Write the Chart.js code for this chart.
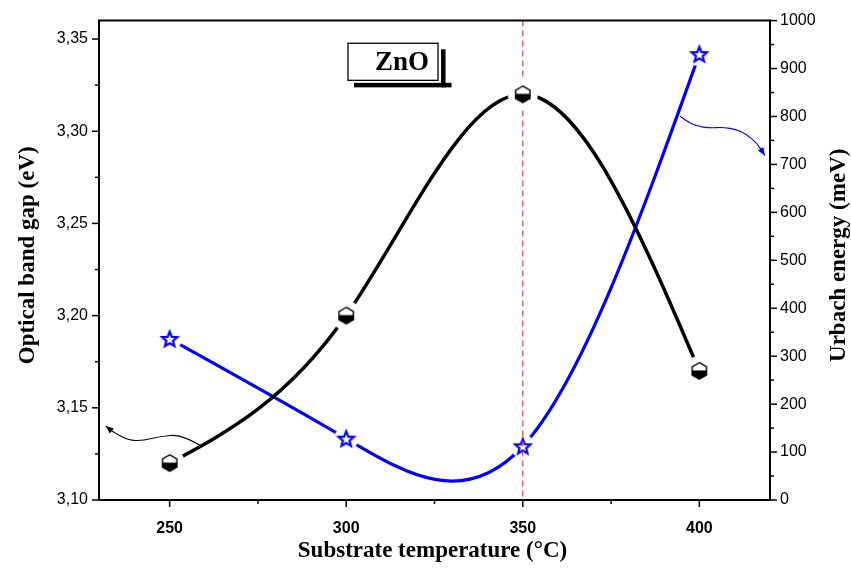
<!DOCTYPE html>
<html><head><meta charset="utf-8">
<script src="https://cdn.jsdelivr.net/npm/chart.js@4.4.1/dist/chart.umd.min.js"></script>
<style>html,body{margin:0;padding:0;background:#fff}#wrap{width:851px;height:570px}</style>
</head><body><div id="wrap"><canvas id="c" width="851" height="570"></canvas></div>
<script>
// ---- data ----
const temperatures = [250, 300, 350, 400];
const bandGap = [3.12, 3.20, 3.32, 3.17];          // eV
const urbachEnergy = [336, 128, 112, 930];         // meV
const xTickValues = [250, 300, 350, 400];
const leftTickValues = [3.10, 3.15, 3.20, 3.25, 3.30, 3.35];
const rightTickValues = [0, 100, 200, 300, 400, 500, 600, 700, 800, 900, 1000];
const markerTemperature = 350;
const sampleLabel = 'ZnO';
const xTitle = 'Substrate temperature (°C)';
const leftTitle = 'Optical band gap (eV)';
const rightTitle = 'Urbach energy (meV)';
// annotation arrows in data units (temperature, value)
const bandGapArrow = [[258.60,3.1297],[253.50,3.1354],[247.27,3.1346],[242.46,3.1321],[238.21,3.1324],[233.68,3.1373],[231.90,3.1402]];
const urbachArrow = [[394.52,800.4],[396.41,790],[399.25,779.6],[403.01,776.1],[406.78,777.5],[410.57,772.8],[413.40,762.4],[416.23,744.9],[418.58,718.7]];
const labelBox = {x0:300.5, x1:326.0, y0:3.3477, y1:3.3276};

const SERIF = '"Liberation Serif","Times New Roman",serif';
const SANS = '"Liberation Sans",Arial,sans-serif';

function makeHex(){
  const s=34,c=document.createElement('canvas');c.width=c.height=s;
  const g=c.getContext('2d');const cx=s/2,cy=s/2,r=8.3;
  g.fillStyle='#fff';g.beginPath();g.arc(cx,cy,15,0,Math.PI*2);g.fill();
  const path=()=>{g.beginPath();for(let i=0;i<6;i++){const a=-Math.PI/2+i*Math.PI/3;const x=cx+r*Math.cos(a),y=cy+r*Math.sin(a);i?g.lineTo(x,y):g.moveTo(x,y);}g.closePath();};
  path();g.fillStyle='#fff';g.fill();
  g.save();g.beginPath();g.rect(0,cy-0.5,s,s);g.clip();path();g.fillStyle='#000';g.fill();g.restore();
  path();g.lineWidth=1.4;g.strokeStyle='#000';g.stroke();
  return c;
}
function makeStar(){
  const s=34,c=document.createElement('canvas');c.width=c.height=s;
  const g=c.getContext('2d');const cx=s/2,cy=s/2+0.7,R=8,r=3.5;
  g.fillStyle='#fff';g.beginPath();g.arc(s/2,s/2,12,0,Math.PI*2);g.fill();
  g.beginPath();for(let i=0;i<10;i++){const a=-Math.PI/2+i*Math.PI/5;const rr=i%2?r:R;const x=cx+rr*Math.cos(a),y=cy+rr*Math.sin(a);i?g.lineTo(x,y):g.moveTo(x,y);}g.closePath();
  g.fillStyle='#fff';g.fill();g.lineWidth=2.2;g.strokeStyle='#0000ff';g.lineJoin='miter';g.stroke();
  return c;
}

// natural cubic spline through the dataset's own points (pixel space of the chart's scales)
const naturalSpline = {
  id:'naturalSpline',
  afterDatasetUpdate(chart,args){
    const meta=args.meta;const pts=meta.data;const n=pts.length;if(n<3||!meta.dataset)return;
    const xs=pts.map(p=>p.x),ys=pts.map(p=>p.y);
    const h=[];for(let i=0;i<n-1;i++)h.push(xs[i+1]-xs[i]);
    const a=[],b=[],c=[],d=[];
    for(let i=1;i<n-1;i++){a.push(h[i-1]);b.push(2*(h[i-1]+h[i]));c.push(h[i]);d.push(6*((ys[i+1]-ys[i])/h[i]-(ys[i]-ys[i-1])/h[i-1]));}
    const m=b.length;
    for(let i=1;i<m;i++){const w=a[i]/b[i-1];b[i]-=w*c[i-1];d[i]-=w*d[i-1];}
    const sol=new Array(m);sol[m-1]=d[m-1]/b[m-1];
    for(let i=m-2;i>=0;i--)sol[i]=(d[i]-c[i]*sol[i+1])/b[i];
    const M=new Array(n).fill(0);for(let i=1;i<n-1;i++)M[i]=sol[i-1];
    for(let i=0;i<n;i++){
      let s;
      if(i<n-1)s=(ys[i+1]-ys[i])/h[i]-h[i]*(2*M[i]+M[i+1])/6;
      else s=(ys[i]-ys[i-1])/h[i-1]+h[i-1]*(M[i-1]+2*M[i])/6;
      const hp=i>0?h[i-1]:0,hn=i<n-1?h[i]:0;const p=pts[i];
      p.cp1x=xs[i]-hp/3;p.cp1y=ys[i]-s*hp/3;
      p.cp2x=xs[i]+hn/3;p.cp2y=ys[i]+s*hn/3;
    }
    meta.dataset._pointsUpdated=true;
  }
};

const decor = {
  id:'decor',
  afterDatasetDraw(chart,args){
    if(args.index!==1)return; // draw the dashed marker line above the Urbach curve, below the band-gap curve
    const {ctx,chartArea:a,scales:{x}}=chart;
    const px=x.getPixelForValue(markerTemperature);
    ctx.save();ctx.strokeStyle='rgba(255,30,30,0.9)';ctx.lineWidth=1.2;ctx.setLineDash([6,4]);
    ctx.beginPath();ctx.moveTo(px,a.top);ctx.lineTo(px,a.bottom);ctx.stroke();ctx.restore();
  },
  afterDraw(chart){
    const {ctx,chartArea:a,scales:{x,y,y1}}=chart;
    ctx.save();
    ctx.strokeStyle='#000';ctx.lineWidth=2;
    ctx.beginPath();ctx.moveTo(a.left-1,a.top);ctx.lineTo(a.right+1,a.top);ctx.stroke();
    // ticks
    ctx.lineWidth=1.5;
    for(let v=250;v<=400;v+=25){const p=x.getPixelForValue(v);const L=(v%50===0)?7:4;ctx.beginPath();ctx.moveTo(p,a.bottom);ctx.lineTo(p,a.bottom+L);ctx.stroke();}
    for(let i=0;i<=10;i++){const v=3.10+i*0.025;const p=y.getPixelForValue(v);const L=(i%2===0)?7:4;ctx.beginPath();ctx.moveTo(a.left,p);ctx.lineTo(a.left-L,p);ctx.stroke();}
    for(let v=0;v<=1000;v+=50){const p=y1.getPixelForValue(v);const L=(v%100===0)?7:4;ctx.beginPath();ctx.moveTo(a.right,p);ctx.lineTo(a.right+L,p);ctx.stroke();}
    // axis titles
    ctx.fillStyle='#000';ctx.font='bold 23px '+SERIF;ctx.textAlign='center';ctx.textBaseline='middle';
    ctx.fillText(xTitle,(a.left+a.right)/2-2,551);
    ctx.save();ctx.translate(28,(a.top+a.bottom)/2-5);ctx.rotate(-Math.PI/2);ctx.fillText(leftTitle,0,0);ctx.restore();
    ctx.save();ctx.translate(839,(a.top+a.bottom)/2-5);ctx.rotate(-Math.PI/2);ctx.fillText(rightTitle,0,0);ctx.restore();
    // label box
    const bx0=x.getPixelForValue(labelBox.x0),bx1=x.getPixelForValue(labelBox.x1);
    const by0=y.getPixelForValue(labelBox.y0),by1=y.getPixelForValue(labelBox.y1);
    const bw=bx1-bx0,bh=by1-by0;
    ctx.fillStyle='#000';
    ctx.fillRect(bx1+3,by0+6,4.5,bh+1);
    ctx.fillRect(bx0+6,by1+2.5,bw+7.5,4.5);
    ctx.fillStyle='#fff';ctx.fillRect(bx0,by0,bw,bh);
    ctx.lineWidth=1.3;ctx.strokeStyle='#000';ctx.strokeRect(bx0,by0,bw,bh);
    ctx.fillStyle='#000';ctx.font='bold 27px '+SERIF;ctx.fillText(sampleLabel,bx0+bw/2+9,(by0+by1)/2+1);
    // arrows
    const drawArrow=(pts,sx,sy,color)=>{
      const P=pts.map(p=>[sx.getPixelForValue(p[0]),sy.getPixelForValue(p[1])]);
      ctx.strokeStyle=color;ctx.fillStyle=color;ctx.lineWidth=1.1;
      ctx.beginPath();ctx.moveTo(P[0][0],P[0][1]);
      for(let i=1;i<P.length-1;i++){const mm=[(P[i][0]+P[i+1][0])/2,(P[i][1]+P[i+1][1])/2];ctx.quadraticCurveTo(P[i][0],P[i][1],mm[0],mm[1]);}
      const n=P.length-1;ctx.lineTo(P[n][0],P[n][1]);ctx.stroke();
      const ang=Math.atan2(P[n][1]-P[n-1][1],P[n][0]-P[n-1][0]);
      const L=8,W=3.2;
      ctx.beginPath();ctx.moveTo(P[n][0],P[n][1]);
      ctx.lineTo(P[n][0]-L*Math.cos(ang)+W*Math.sin(ang),P[n][1]-L*Math.sin(ang)-W*Math.cos(ang));
      ctx.lineTo(P[n][0]-L*Math.cos(ang)-W*Math.sin(ang),P[n][1]-L*Math.sin(ang)+W*Math.cos(ang));
      ctx.closePath();ctx.fill();
    };
    drawArrow(bandGapArrow,x,y,'#000');
    drawArrow(urbachArrow,x,y1,'#0000ff');
    ctx.restore();
  }
};

const hexImg=makeHex(), starImg=makeStar();
new Chart(document.getElementById('c'),{
  type:'line',
  data:{datasets:[
    {label:'Eg',data:temperatures.map((t,i)=>({x:t,y:bandGap[i]})),yAxisID:'y',borderColor:'#000',borderWidth:3.5,tension:0.4,
     pointStyle:hexImg,pointRadius:9,pointHoverRadius:9,fill:false},
    {label:'Eu',data:temperatures.map((t,i)=>({x:t,y:urbachEnergy[i]})),yAxisID:'y1',borderColor:'#0000ff',borderWidth:3.2,tension:0.4,
     pointStyle:starImg,pointRadius:9,pointHoverRadius:9,fill:false}
  ]},
  options:{
    responsive:false,animation:false,events:[],
    layout:{padding:{top:19,left:0,right:0,bottom:0}},
    plugins:{legend:{display:false},tooltip:{enabled:false}},
    scales:{
      x:{type:'linear',min:230,max:420,
        afterBuildTicks:s=>{s.ticks=xTickValues.map(v=>({value:v}));},
        afterFit:s=>{s.height=70;},
        grid:{display:false,drawTicks:false},border:{display:true,width:2,color:'#000'},
        ticks:{color:'#000',padding:19,font:{family:SANS,size:16,weight:'bold'},callback:v=>String(v)}},
      y:{type:'linear',position:'left',min:3.10,max:3.36,
        afterBuildTicks:s=>{s.ticks=leftTickValues.map(v=>({value:v}));},
        afterFit:s=>{s.width=99;},
        grid:{display:false,drawTicks:false},border:{display:true,width:2,color:'#000'},
        ticks:{color:'#000',padding:11,font:{family:SANS,size:16},callback:v=>v.toFixed(2).replace('.',',')}},
      y1:{type:'linear',position:'right',min:0,max:1000,
        afterBuildTicks:s=>{s.ticks=rightTickValues.map(v=>({value:v}));},
        afterFit:s=>{s.width=81;},
        grid:{display:false,drawTicks:false},border:{display:true,width:2,color:'#000'},
        ticks:{color:'#000',padding:10,font:{family:SANS,size:16},callback:v=>String(v)}}
    }
  },
  plugins:[naturalSpline,decor]
});
</script></body></html>
